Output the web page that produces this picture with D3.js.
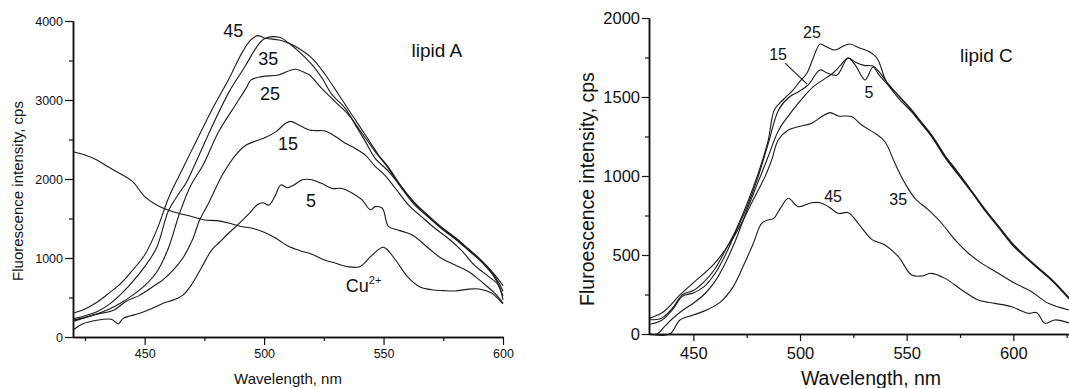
<!DOCTYPE html>
<html>
<head>
<meta charset="utf-8">
<script src="https://cdn.jsdelivr.net/npm/d3@7"></script>
<style>
  body { margin: 0; background: #fff; }
  svg { display: block; }
  text { font-family: "Liberation Sans", Arial, sans-serif; fill: #111; }
</style>
</head>
<body>
<div id="chart"></div>
<script>
// ---- lipid A panel: [wavelength nm, intensity cps] ----
const lipidA_45 = [[420,300],[425,354],[430,439],[435,553],[440,679],[445,848],[450,1038],[455,1350],[460,1760],[464.6,2051],[471.5,2473],[478.5,2895],[485.4,3275],[491,3612],[494.4,3760],[497.2,3815],[500.7,3781],[506.3,3760],[510.4,3718],[513.2,3676],[520.1,3528],[525.7,3317],[531.3,3064],[536.8,2811],[542.4,2557],[547.9,2304],[552,2150],[557.6,1900],[563,1700],[569,1530],[574.3,1390],[580,1260],[585.4,1120],[591,970],[596.5,790],[600,650]];
const lipidA_35 = [[420,230],[425,270],[430,320],[435,410],[440,540],[445,700],[450,890],[455,1130],[460,1600],[464,1800],[467.5,1960],[472,2250],[478.5,2684],[485.4,3106],[492.4,3444],[496.5,3654],[500,3772],[506.3,3794],[510.4,3718],[514.6,3612],[520.1,3444],[524.3,3275],[528.5,3064],[534,2895],[538.2,2684],[542.4,2473],[546.5,2262],[552,2100],[557.6,1890],[563,1690],[569,1520],[574.3,1380],[580,1250],[585.4,1110],[591,960],[596.5,770],[600,580]];
const lipidA_25 = [[420,215],[425,245],[430,290],[435,350],[440,430],[445,530],[450,650],[455,820],[460,1130],[464.5,1557],[469,1900],[474.5,2180],[481,2600],[488,2937],[492.5,3150],[494.5,3254],[499,3296],[506,3317],[513,3390],[517.5,3338],[519,3317],[524.3,3140],[530,2971],[535.4,2811],[541,2578],[546.5,2346],[552,2135],[557.6,1882],[563,1671],[569,1510],[574.3,1370],[580,1240],[585.4,1100],[591,950],[596.5,750],[600,520]];
const lipidA_15 = [[420,195],[428.5,280],[437,340],[442,447],[448,530],[453.5,640],[457.5,720],[462,850],[466,1000],[470,1230],[473,1480],[477,1710],[482.5,2050],[488,2300],[492.5,2430],[496.5,2480],[500.5,2525],[505,2600],[509,2705],[511,2730],[514.5,2685],[519,2620],[521.5,2612],[525.5,2608],[530,2536],[534,2452],[538,2390],[542.5,2300],[546.5,2160],[550.5,2050],[555,1880],[560.5,1670],[566,1520],[571.5,1376],[577,1250],[582.5,1100],[588,910],[594,765],[598,660],[600,470]];
const lipidA_5 = [[420,89],[424,165],[430,212],[436,224],[439,168],[441,236],[448,300],[453,360],[458,430],[462,470],[466,530],[470,680],[474,890],[478,1100],[481,1190],[485,1310],[490,1450],[494,1570],[497,1670],[499.5,1700],[502,1670],[504.5,1780],[507,1925],[509.7,1890],[512.5,1925],[516,1990],[520,1990],[524,1945],[528.5,1880],[532.5,1880],[537,1820],[541,1735],[544.5,1610],[546.5,1650],[549.5,1630],[552,1400],[556,1355],[562,1290],[569,1120],[574,1000],[580,910],[585.5,830],[591,700],[596.5,555],[600,430]];
const lipidA_Cu = [[420,2346],[425,2304],[430,2241],[435,2148],[440,2064],[445,1967],[450,1777],[455,1671],[460,1604],[465,1561],[470,1523],[475,1481],[480,1473],[485,1443],[490,1401],[495,1376],[500,1325],[505,1249],[510,1152],[515,1093],[520,1047],[525,979],[530,933],[535,890],[540,890],[545,1030],[550,1135],[555,975],[560,764],[565,637],[570,599],[575,587],[580,582],[585,603],[590,608],[595,561],[600,420]];

// ---- lipid C panel ----
const lipidC_45 = [[429.2,0],[439,0],[443.7,89],[450,120],[456.2,152],[462.5,200],[468.7,300],[473.4,430],[478,570],[482,700],[485,722],[487.5,730],[491,800],[494.5,859],[499.2,806],[505.5,831],[509.4,831],[513.3,806],[518,764],[522.7,768],[527.3,700],[533.6,599],[539.8,563],[546.1,490],[552.3,373],[557,367],[561.7,384],[568,352],[575.8,279],[583.6,215],[591.4,194],[599.2,173],[607,131],[611,135],[614.8,68],[619.5,89],[626.1,70]];
const lipidC_35 = [[429.2,99],[436,141],[443.7,247],[451.5,342],[459.3,437],[467,574],[473.4,722],[478,848],[483.6,996],[486.7,1101],[489.8,1228],[494.5,1291],[499.2,1312],[505.5,1334],[510.2,1376],[514.1,1401],[518,1380],[524.2,1376],[528.9,1323],[535.2,1270],[539.8,1217],[544.5,1080],[549.2,954],[553.9,859],[560.2,785],[566.4,701],[572.7,595],[578.9,511],[585.2,447],[593,384],[600.8,321],[608.6,268],[616.4,194],[626.1,152]];
const lipidC_25 = [[429.2,90],[435,100],[440,160],[445,250],[450,275],[455,330],[460,410],[465,530],[470,660],[475,820],[480,1000],[485,1220],[488,1420],[492,1481],[496.7,1544],[500,1600],[503.3,1652],[506,1740],[509.4,1835],[512,1820],[516.4,1797],[520,1820],[523.4,1835],[528,1810],[532.8,1785],[536.1,1747],[540.8,1589],[546.9,1500],[552,1425],[557,1340],[562,1255],[568,1130],[574,1025],[580.5,905],[586.7,790],[593,684],[599.2,580],[605.5,495],[611.7,420],[618,345],[626.1,230]];
const lipidC_15 = [[429.2,60],[435,85],[440,150],[445,240],[450,260],[455,300],[460,380],[465,500],[470,650],[475,800],[480,980],[485,1200],[490,1420],[495,1500],[499,1530],[503.8,1576],[509.4,1671],[513,1650],[517.3,1639],[522.5,1747],[526,1720],[530,1700],[534.2,1696],[537,1660],[541,1590],[546,1510],[552,1418],[557,1334],[562,1249],[568,1123],[574,1017],[580.5,901],[586.7,785],[593,679],[599.2,574],[605.5,490],[611.7,416],[618,342],[626.1,226]];
const lipidC_5 = [[429.2,0],[433,0],[436,40],[440,95],[445,150],[450,195],[455,250],[460,330],[465,450],[470,600],[475,780],[480,950],[485,1120],[490,1290],[496.7,1418],[501,1490],[506,1563],[511,1610],[515.5,1652],[519,1700],[522.5,1747],[526,1700],[530.5,1608],[534.2,1690],[537,1640],[541,1580],[546,1495],[552,1410],[557,1328],[562,1243],[568,1116],[574,1010],[580.5,896],[586.7,780],[593,674],[599.2,568],[605.5,486],[611.7,412],[618,338],[626.1,222]];

// tick values
const xMajorA = [450, 500, 550, 600];
const xMinorA = [425, 475, 525, 575];
const yMajorA = [0, 1000, 2000, 3000, 4000];
const yMinorA = [500, 1500, 2500, 3500];
const xMajorC = [450, 500, 550, 600];
const xMinorC = [475, 525, 575, 625];
const yMajorC = [0, 500, 1000, 1500, 2000];
const yMinorC = [250, 750, 1250, 1750];

// curve labels: [text, nm, cps]
const labelsA = [["45", 487.1, 3801], ["35", 501.7, 3443], ["25", 502.5, 3000], ["15", 510, 2367], ["5", 519.6, 1646]];
const labelsC = [["25", 505.6, 1873], ["15", 489.7, 1734], ["5", 532.3, 1494], ["45", 515.5, 835], ["35", 546, 816]];
const leaderC = [[493, 1715], [503.3, 1582]];

const svg = d3.select("#chart").append("svg")
    .attr("width", 1069)
    .attr("height", 388);

function drawPanel(p) {
    const x = d3.scaleLinear().domain(p.xDomain).range(p.xRange);
    const y = d3.scaleLinear().domain(p.yDomain).range(p.yRange);
    const g = svg.append("g");
    const base = p.yRange[0];
    const left = p.xRange[0];

    // minor ticks first, then major axes on top
    g.append("g")
        .attr("transform", `translate(0,${base})`)
        .call(d3.axisBottom(x).tickValues(p.xMinor).tickSize(4).tickSizeOuter(0).tickFormat(""));
    g.append("g")
        .attr("transform", `translate(${left},0)`)
        .call(d3.axisLeft(y).tickValues(p.yMinor).tickSize(4).tickSizeOuter(0).tickFormat(""));

    const xAxis = g.append("g")
        .attr("transform", `translate(0,${base})`)
        .call(d3.axisBottom(x).tickValues(p.xMajor).tickSize(p.tick).tickSizeOuter(0)
            .tickPadding(p.xPad).tickFormat(d3.format("d")));
    const yAxis = g.append("g")
        .attr("transform", `translate(${left},0)`)
        .call(d3.axisLeft(y).tickValues(p.yMajor).tickSize(p.tick).tickSizeOuter(0)
            .tickPadding(2).tickFormat(d3.format("d")));

    g.selectAll(".domain").attr("stroke", "#111").attr("stroke-width", 1.5);
    g.selectAll(".tick line").attr("stroke", "#111").attr("stroke-width", 1.2);
    xAxis.selectAll("text").style("font-size", p.tickFont + "px").attr("fill", "#111");
    yAxis.selectAll("text").style("font-size", p.tickFont + "px").attr("fill", "#111");

    // axis titles
    g.append("text")
        .attr("x", p.xTitlePos[0])
        .attr("y", p.xTitlePos[1])
        .attr("text-anchor", "middle")
        .style("font-size", p.titleFont + "px")
        .text("Wavelength, nm");

    g.append("text")
        .attr("transform", `translate(${p.yTitlePos[0]},${p.yTitlePos[1]}) rotate(-90)`)
        .attr("text-anchor", "middle")
        .style("font-size", p.titleFont + "px")
        .text(p.yTitle);

    const line = d3.line()
        .x(d => x(d[0]))
        .y(d => y(d[1]))
        .curve(d3.curveCatmullRom.alpha(0.5));

    p.series.forEach(s => {
        g.append("path")
            .datum(s)
            .attr("fill", "none")
            .attr("stroke", "#1a1a1a")
            .attr("stroke-width", 1.1)
            .attr("d", line);
    });

    p.labels.forEach(l => {
        g.append("text")
            .attr("x", x(l[1]))
            .attr("y", y(l[2]))
            .attr("text-anchor", "middle")
            .style("font-size", p.labelFont + "px")
            .text(l[0]);
    });

    g.append("text")
        .attr("x", x(p.panelLabel[1]))
        .attr("y", y(p.panelLabel[2]))
        .style("font-size", "19px")
        .text(p.panelLabel[0]);

    return { g, x, y };
}

const A = drawPanel({
    xDomain: [420, 600], xRange: [73, 503],
    yDomain: [0, 4000], yRange: [337, 21],
    xMajor: xMajorA, xMinor: xMinorA, yMajor: yMajorA, yMinor: yMinorA,
    tick: 8, xPad: 4, tickFont: 12.5, titleFont: 15, labelFont: 18,
    xTitlePos: [288, 384], yTitlePos: [23, 191],
    yTitle: "Fluorescence intensity, cps",
    series: [lipidA_45, lipidA_35, lipidA_25, lipidA_15, lipidA_5, lipidA_Cu],
    labels: labelsA,
    panelLabel: ["lipid A", 561.7, 3548]
});

// Cu2+ label with superscript
const cu = A.g.append("text")
    .attr("x", A.x(534.2))
    .attr("y", A.y(570))
    .style("font-size", "18px");
cu.append("tspan").text("Cu");
cu.append("tspan").attr("dy", -8).style("font-size", "11px").text("2+");

const C = drawPanel({
    xDomain: [429.2, 626.1], xRange: [649, 1069],
    yDomain: [0, 2000], yRange: [334, 18],
    xMajor: xMajorC, xMinor: xMinorC, yMajor: yMajorC, yMinor: yMinorC,
    tick: 7, xPad: 6, tickFont: 16.5, titleFont: 19.5, labelFont: 16,
    xTitlePos: [871, 385], yTitlePos: [594, 189],
    yTitle: "Fluroescence intensity, cps",
    series: [lipidC_45, lipidC_35, lipidC_25, lipidC_15, lipidC_5],
    labels: labelsC,
    panelLabel: ["lipid C", 575, 1722]
});

// leader line from the "15" label
C.g.append("line")
    .attr("x1", C.x(leaderC[0][0])).attr("y1", C.y(leaderC[0][1]))
    .attr("x2", C.x(leaderC[1][0])).attr("y2", C.y(leaderC[1][1]))
    .attr("stroke", "#1a1a1a")
    .attr("stroke-width", 1.1);
</script>
</body>
</html>
